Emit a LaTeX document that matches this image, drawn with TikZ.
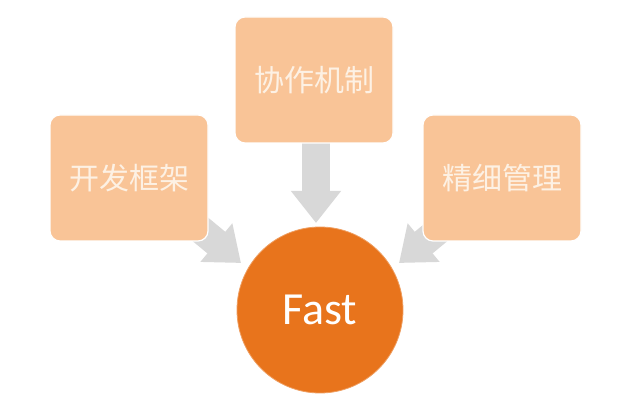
\documentclass[tikz,border=0pt]{standalone}
\usepackage{fontspec}
\newfontfamily\cjk{Noto Sans CJK SC}
\newfontfamily\fastfont{Carlito}
\usetikzlibrary{arrows.meta}
\definecolor{boxfill}{HTML}{F9C497}
\definecolor{boxtext}{HTML}{FDF1E4}
\definecolor{circfill}{HTML}{E8741C}
\definecolor{arrowgray}{HTML}{D8D8D8}
\tikzset{
  pbox/.style={draw=white, line width=1.2pt, fill=boxfill, rounded corners=10pt,
    minimum width=158pt, minimum height=126pt, inner sep=0pt,
    font=\cjk\fontsize{30}{34}\selectfont, text=boxtext},
  bigarrow/.style={draw=arrowgray, line width=28pt,
    -{Triangle[width=48pt,length=32pt]}},
  hub/.style={circle, fill=circfill, draw=circfill!70!white, line width=0.8pt,
    minimum size=166pt, inner sep=0pt, text=white,
    font=\fastfont\fontsize{46}{50}\selectfont}
}
\begin{document}
\begin{tikzpicture}[x=1pt,y=-1pt]
\useasboundingbox (0,0) rectangle (640,411);
\fill[white] (0,0) rectangle (640,411);
% arrow anchor coordinates
\coordinate (lt) at (183,215);
\coordinate (lh) at (241,263);
\coordinate (rt) at (457,215);
\coordinate (rh) at (399,263);
\coordinate (tt) at (316,143);
\coordinate (th) at (316,223);
\draw[bigarrow] (lt) -- (lh);
\draw[bigarrow] (rt) -- (rh);
\draw[bigarrow] (tt) -- (th);
% boxes
\node[pbox] (L) at (129,178) {开发框架};
\node[pbox] (T) at (314,80) {协作机制};
\node[pbox] (R) at (502,178) {精细管理};
% hub
\node[hub] (C) at (320,310) {Fast};
\end{tikzpicture}
\end{document}
